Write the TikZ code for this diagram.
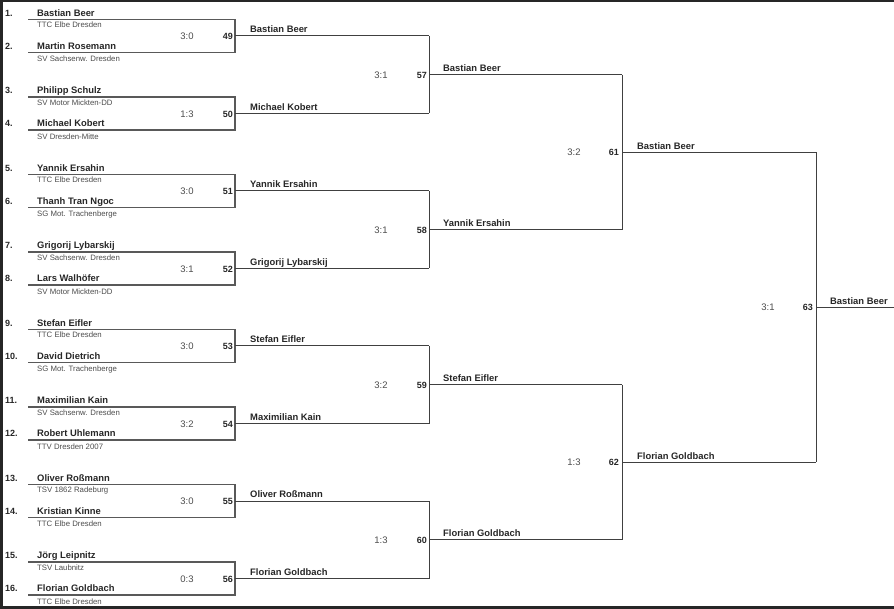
\documentclass[tikz,border=0pt]{standalone}
\usepackage{fontspec}
\setmainfont{Liberation Sans}
\begin{document}
\begin{tikzpicture}[x=1pt,y=-1pt,
 boxline/.style={draw=black!65, line width=1.3pt},
 link/.style={draw=black!75, line width=1pt},
 seednum/.style={anchor=base west, inner sep=0, font=\fontsize{9}{10}\selectfont\bfseries, text=black!85},
 pname/.style={anchor=base west, inner sep=0, font=\fontsize{9.4}{11}\selectfont\bfseries, text=black!85},
 club/.style={anchor=base west, inner sep=0, font=\fontsize{7.8}{9}\selectfont, text=black!70},
 score/.style={anchor=base, inner sep=0, font=\fontsize{9.5}{11}\selectfont, text=black!70},
 mnum/.style={anchor=base east, inner sep=0, font=\fontsize{9}{11}\selectfont\bfseries, text=black!85},
]
\useasboundingbox (0,0) rectangle (894,609);
% frame
\fill[black!85] (0,0) rectangle (894,2);
\fill[black!85] (0,0) rectangle (3,609);
\fill[black!85] (0,605.5) rectangle (894,609);

% round 1
\foreach \k/\a/\na/\ca/\b/\nb/\cb/\sc/\m in {
 0/1/Bastian Beer/TTC Elbe Dresden/2/Martin Rosemann/SV Sachsenw. Dresden/3:0/49,
 1/3/Philipp Schulz/SV Motor Mickten-DD/4/Michael Kobert/SV Dresden-Mitte/1:3/50,
 2/5/Yannik Ersahin/TTC Elbe Dresden/6/Thanh Tran Ngoc/SG Mot. Trachenberge/3:0/51,
 3/7/Grigorij Lybarskij/SV Sachsenw. Dresden/8/Lars Walhöfer/SV Motor Mickten-DD/3:1/52,
 4/9/Stefan Eifler/TTC Elbe Dresden/10/David Dietrich/SG Mot. Trachenberge/3:0/53,
 5/11/Maximilian Kain/SV Sachsenw. Dresden/12/Robert Uhlemann/TTV Dresden 2007/3:2/54,
 6/13/Oliver Roßmann/TSV 1862 Radeburg/14/Kristian Kinne/TTC Elbe Dresden/3:0/55,
 7/15/Jörg Leipnitz/TSV Laubnitz/16/Florian Goldbach/TTC Elbe Dresden/0:3/56}{
  \pgfmathsetmacro\yT{19.5+77.5*\k}
  \node[seednum] (s\a) at (5,\yT-3.1) {\a.};
  \node[pname] (p\a) at (37,\yT-3.1) {\na};
  \node[club] (c\a) at (37,\yT+8.3) {\ca};
  \node[seednum] (s\b) at (5,\yT+29.9) {\b.};
  \node[pname] (p\b) at (37,\yT+29.9) {\nb};
  \node[club] (c\b) at (37,\yT+42.3) {\cb};
  \node[score] (sc\m) at (187,\yT+20.3) {\sc};
  \node[mnum] (n\m) at (233,\yT+20.3) {\m};
  \coordinate (tl\m) at (28,\yT);
  \coordinate (tr\m) at (235,\yT);
  \coordinate (br\m) at (235,\yT+33);
  \coordinate (bl\m) at (28,\yT+33);
  \coordinate (o\m) at (235,\yT+16.5);
  \draw[boxline] (tl\m) -- (tr\m) -- (br\m) -- (bl\m);
}

% round 2
\foreach \i/\m/\w in {0/49/Bastian Beer,1/50/Michael Kobert,2/51/Yannik Ersahin,3/52/Grigorij Lybarskij,
  4/53/Stefan Eifler,5/54/Maximilian Kain,6/55/Oliver Roßmann,7/56/Florian Goldbach}{
  \pgfmathsetmacro\yy{36+77.5*\i}
  \node[pname] (w\m) at (250,\yy-3.1) {\w};
  \coordinate (j\m) at (429,\yy);
  \draw[link] (o\m) -- (j\m);
}
\foreach \a/\b/\m/\sc/\i in {49/50/57/3:1/0,51/52/58/3:1/1,53/54/59/3:2/2,55/56/60/1:3/3}{
  \pgfmathsetmacro\yy{74.75+155*\i}
  \draw[link] (j\a) -- (j\b);
  \coordinate (o\m) at (429,\yy);
  \node[score] (sc\m) at (381,\yy+3.3) {\sc};
  \node[mnum] (n\m) at (427,\yy+3.3) {\m};
}

% round 3
\foreach \i/\m/\w in {0/57/Bastian Beer,1/58/Yannik Ersahin,2/59/Stefan Eifler,3/60/Florian Goldbach}{
  \pgfmathsetmacro\yy{74.75+155*\i}
  \node[pname] (w\m) at (443,\yy-3.1) {\w};
  \coordinate (j\m) at (622,\yy);
  \draw[link] (o\m) -- (j\m);
}
\foreach \a/\b/\m/\sc/\i in {57/58/61/3:2/0,59/60/62/1:3/1}{
  \pgfmathsetmacro\yy{152.25+310*\i}
  \draw[link] (j\a) -- (j\b);
  \coordinate (o\m) at (622,\yy);
  \node[score] (sc\m) at (574,\yy+3.3) {\sc};
  \node[mnum] (n\m) at (619,\yy+3.3) {\m};
}

% round 4
\foreach \i/\m/\w in {0/61/Bastian Beer,1/62/Florian Goldbach}{
  \pgfmathsetmacro\yy{152.25+310*\i}
  \node[pname] (w\m) at (637,\yy-3.1) {\w};
  \coordinate (j\m) at (816,\yy);
  \draw[link] (o\m) -- (j\m);
}
\draw[link] (j61) -- (j62);
\coordinate (o63) at (816,307.25);
\node[score] (sc63) at (768,310.55) {3:1};
\node[mnum] (n63) at (813,310.55) {63};

% final
\node[pname] (w63) at (830,304.15) {Bastian Beer};
\coordinate (end63) at (894,307.25);
\draw[link] (o63) -- (end63);
\end{tikzpicture}
\end{document}
